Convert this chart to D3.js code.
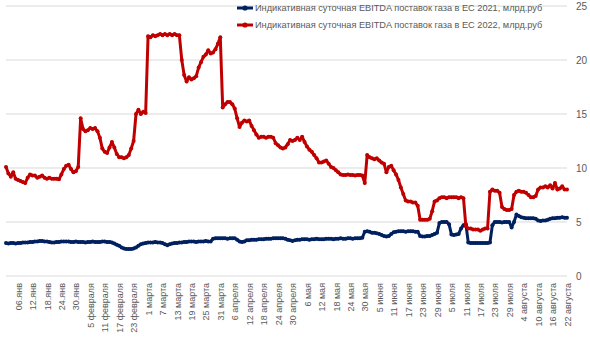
<!DOCTYPE html>
<html><head><meta charset="utf-8">
<script src="https://cdn.jsdelivr.net/npm/d3@7"></script>
<style>
html,body{margin:0;padding:0;background:#fff;}
svg{display:block;font-family:"Liberation Sans",Arial,sans-serif;}
</style></head>
<body>
<svg id="chart" width="590" height="337"></svg>
<script>
// Series names
const seriesNames = [
  "Индикативная суточная EBITDA поставок газа в ЕС 2021, млрд.руб",
  "Индикативная суточная EBITDA поставок газа в ЕС 2022, млрд.руб"
];
// Daily values, 1 Jan .. 22 Aug
const values2021 = [
3.05,3.0,3.05,3.05,3.0,3.05,3.05,3.1,3.1,3.1,3.15,3.15,3.2,3.2,3.25,3.25,3.2,3.2,3.15,3.1,
3.1,3.15,3.15,3.2,3.2,3.2,3.2,3.15,3.15,3.2,3.15,3.15,3.15,3.1,3.15,3.15,3.2,3.15,3.15,3.15,
3.2,3.2,3.15,3.15,3.1,3.0,2.9,2.8,2.65,2.55,2.5,2.5,2.5,2.55,2.65,2.8,2.95,3.0,3.05,3.1,
3.1,3.1,3.15,3.1,3.1,3.05,2.95,2.85,2.95,3.0,3.05,3.05,3.1,3.1,3.15,3.15,3.2,3.2,3.2,3.15,
3.2,3.2,3.2,3.25,3.2,3.2,3.45,3.5,3.5,3.5,3.5,3.5,3.45,3.5,3.5,3.5,3.35,3.2,3.15,3.2,
3.3,3.3,3.35,3.35,3.35,3.4,3.4,3.4,3.45,3.45,3.45,3.5,3.5,3.5,3.5,3.5,3.45,3.35,3.3,3.25,
3.3,3.35,3.35,3.4,3.4,3.4,3.35,3.4,3.4,3.45,3.4,3.4,3.4,3.45,3.45,3.45,3.4,3.45,3.45,3.5,
3.45,3.45,3.5,3.5,3.45,3.5,3.5,3.5,3.55,4.1,4.15,4.1,4.0,4.0,3.95,3.9,3.8,3.7,3.65,3.7,
3.9,4.05,4.1,4.15,4.15,4.15,4.1,4.15,4.15,4.15,4.1,4.1,3.7,3.65,3.65,3.7,3.7,3.8,3.9,4.0,
4.9,5.0,5.0,5.0,4.8,3.85,3.8,3.85,3.9,4.4,4.7,4.8,3.1,3.05,3.05,3.05,3.05,3.05,3.05,3.05,
3.05,3.1,4.7,5.0,5.0,5.0,4.95,5.0,5.0,5.0,4.5,5.0,5.7,5.55,5.45,5.4,5.35,5.35,5.35,5.35,
5.3,5.15,5.1,5.15,5.15,5.2,5.3,5.35,5.35,5.4,5.4,5.45,5.4,5.4
];
const values2022 = [
10.1,9.5,9.2,9.6,9.0,8.9,8.8,8.7,8.6,9.1,9.4,9.3,9.3,9.1,9.2,9.3,9.1,9.0,9.1,9.0,
9.0,9.0,8.95,9.4,9.9,10.2,10.3,9.9,9.6,9.7,10.1,14.6,13.6,13.4,13.5,13.7,13.6,13.7,13.4,12.8,
11.8,11.5,11.4,11.9,12.4,11.9,11.3,11.0,11.0,10.9,11.0,11.2,11.8,12.5,15.0,15.4,15.0,15.2,15.1,22.2,
22.1,22.3,22.2,22.3,22.4,22.3,22.4,22.3,22.4,22.3,22.4,22.3,22.3,20.0,18.6,18.0,18.4,18.2,18.3,18.5,
19.3,19.8,20.3,20.5,20.9,20.6,20.7,21.0,21.5,22.1,15.6,15.9,16.1,16.1,15.9,15.5,14.6,13.8,14.2,14.4,
14.3,14.4,13.9,13.5,13.1,12.8,12.9,12.9,12.8,12.9,12.9,12.8,12.3,12.1,11.9,11.8,11.9,12.2,12.6,12.5,
12.6,12.8,12.6,12.9,12.4,12.0,11.7,11.5,11.2,10.9,10.5,10.5,10.6,10.7,10.4,10.1,10.0,9.8,9.6,9.4,
9.35,9.35,9.4,9.35,9.35,9.3,9.35,9.35,9.3,8.6,11.2,11.0,10.9,10.8,10.9,10.7,10.5,10.4,9.6,10.1,
10.2,9.8,9.4,8.9,8.2,7.6,7.0,6.9,6.9,6.8,6.8,6.5,5.2,5.2,5.2,5.2,5.3,6.0,6.9,7.0,
7.2,7.3,7.3,7.2,7.3,7.3,7.3,7.3,7.2,7.3,7.2,4.6,4.4,4.4,4.3,4.3,4.3,4.2,4.3,4.4,
4.4,7.8,8.0,7.9,7.9,7.7,6.4,6.2,6.1,6.1,6.2,7.5,7.8,7.9,7.8,7.8,7.7,7.5,7.3,7.3,
7.4,8.0,8.2,8.2,8.3,8.2,8.4,8.1,8.6,8.0,8.1,8.3,8.0,8.0
];
// X-axis tick labels (every 6 days from 6 Jan)
const tickLabels = [
 "06.янв","12.янв","18.янв","24.янв","30.янв",
 "5 февраля","11 февраля","17 февраля","23 февраля",
 "1 марта","7 марта","13 марта","19 марта","25 марта","31 марта",
 "6 апреля","12 апреля","18 апреля","24 апреля","30 апреля",
 "6 мая","12 мая","18 мая","24 мая","30 мая",
 "5 июня","11 июня","17 июня","23 июня","29 июня",
 "5 июля","11 июля","17 июля","23 июля","29 июля",
 "4 августа","10 августа","16 августа","22 августа"
];
const yTicks = [0,5,10,15,20,25];
const colors = ["#002060","#C00000"];

const startDate = new Date(2022,0,1);
const dates = values2022.map((_,i)=>d3.timeDay.offset(startDate,i));
const firstTick = new Date(2022,0,6);
const tickDates = tickLabels.map((_,i)=>d3.timeDay.offset(firstTick,i*6));

const svg = d3.select("#chart");
const mLeft = 6, mRight = 567, mTop = 6, mBottom = 276;
const x = d3.scaleTime().domain([dates[0], dates[dates.length-1]]).range([mLeft,mRight]);
const y = d3.scaleLinear().domain([0,25]).range([mBottom,mTop]);

// gridlines
svg.append("g").selectAll("line").data(yTicks).join("line")
  .attr("x1",mLeft).attr("x2",mRight)
  .attr("y1",d=>y(d)).attr("y2",d=>y(d))
  .attr("stroke","#d9d9d9").attr("stroke-width",1);

// right axis labels
const yAxis = d3.axisRight(y).tickValues(yTicks).tickSize(0).tickPadding(0);
const gy = svg.append("g").attr("transform",`translate(576,0)`).call(yAxis);
gy.select(".domain").remove();
gy.selectAll("text").attr("fill","#595959").style("font-size","10px")
  .style("font-family",'"Liberation Sans",Arial,sans-serif');

// bottom axis labels
const xAxis = d3.axisBottom(x).tickValues(tickDates).tickFormat((d,i)=>tickLabels[i]).tickSize(0);
const gx = svg.append("g").attr("transform",`translate(0,${mBottom})`).call(xAxis);
gx.select(".domain").remove();
gx.selectAll("text")
  .attr("transform","rotate(-90)")
  .attr("text-anchor","end")
  .attr("x",-7).attr("y",0).attr("dy","0.35em")
  .attr("fill","#595959").style("font-size","9px")
  .style("font-family",'"Liberation Sans",Arial,sans-serif');

// series
const series = [values2021, values2022];
const line = d3.line().x((d,i)=>x(dates[i])).y(d=>y(d));
series.forEach((vals,k)=>{
  const g = svg.append("g");
  g.append("path").datum(vals).attr("d",line)
    .attr("fill","none").attr("stroke",colors[k]).attr("stroke-width",3)
    .attr("stroke-linejoin","round");
  g.selectAll("circle").data(vals).join("circle")
    .attr("cx",(d,i)=>x(dates[i])).attr("cy",d=>y(d)).attr("r",2)
    .attr("fill",colors[k]);
});

// legend
const legend = svg.append("g");
seriesNames.forEach((name,k)=>{
  const ly = 8 + k*17;
  legend.append("line").attr("x1",237).attr("x2",253).attr("y1",ly).attr("y2",ly)
    .attr("stroke",colors[k]).attr("stroke-width",3);
  legend.append("circle").attr("cx",245).attr("cy",ly).attr("r",2.6).attr("fill",colors[k]);
  legend.append("text").attr("x",255).attr("y",ly).attr("dy","0.35em")
    .attr("fill","#595959").style("font-size","9.2px").text(name);
});
</script>
</body></html>
